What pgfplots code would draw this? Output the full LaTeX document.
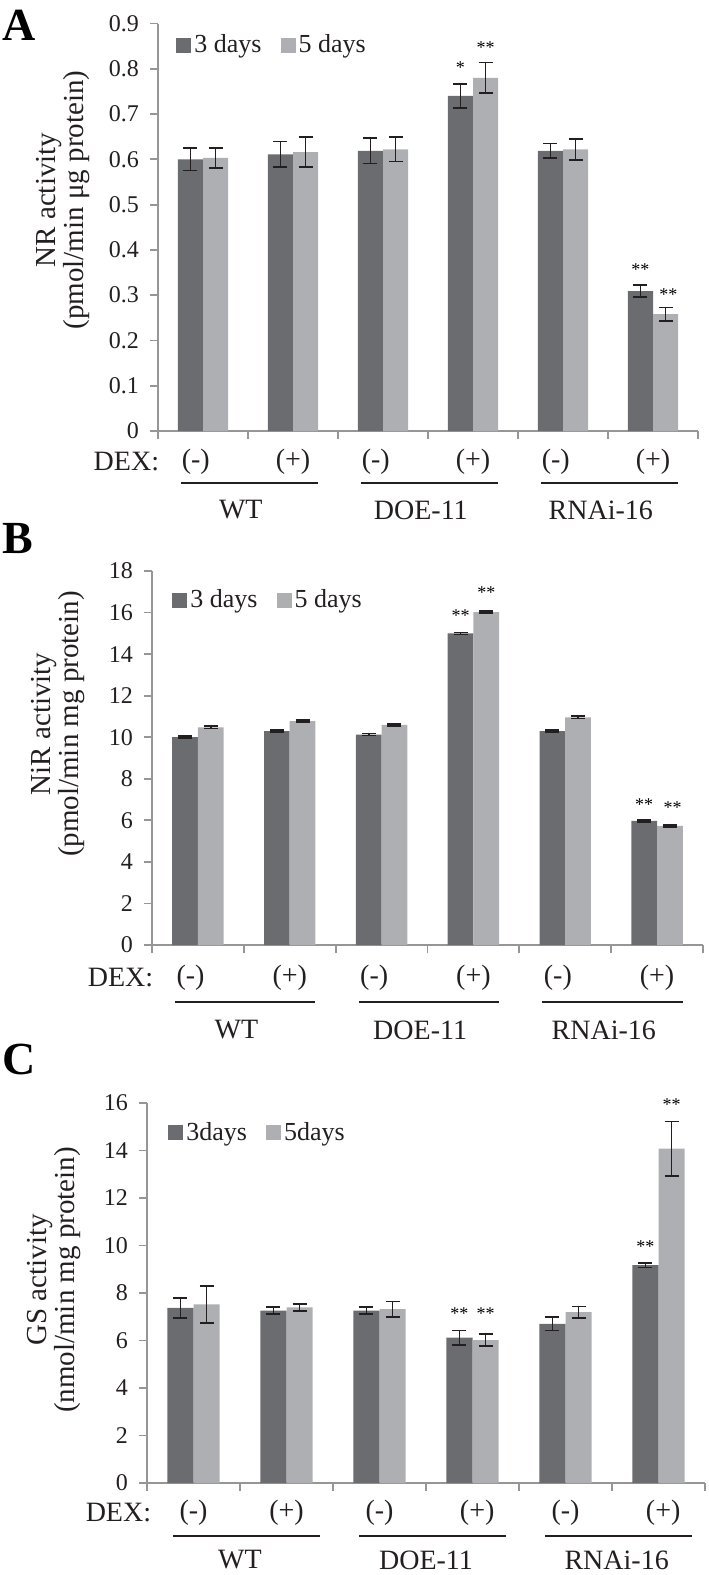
\documentclass[border=0pt]{standalone}
\usepackage{fontspec}
\setmainfont{Liberation Serif}
\usepackage{pgfplots}
\usepackage{pgfplotstable}
\pgfplotsset{compat=1.18}
\definecolor{barD}{RGB}{107,108,112}
\definecolor{barL}{RGB}{173,175,178}
\definecolor{axgray}{RGB}{150,150,150}
\definecolor{txt}{RGB}{35,31,32}

\pgfplotstableread{
x a ae b be
0 0.600 0.025 0.603 0.022
1 0.611 0.028 0.616 0.033
2 0.619 0.028 0.622 0.027
3 0.740 0.027 0.780 0.034
4 0.619 0.016 0.622 0.023
5 0.309 0.013 0.258 0.015
}\dataA
\pgfplotstableread{
x a ae b be
0 10.00 0.05 10.48 0.05
1 10.30 0.05 10.78 0.05
2 10.13 0.05 10.60 0.05
3 15.00 0.05 16.02 0.05
4 10.30 0.05 10.96 0.05
5 5.97 0.05 5.74 0.05
}\dataB
\pgfplotstableread{
x a ae b be
0 7.37 0.43 7.52 0.78
1 7.26 0.15 7.40 0.15
2 7.26 0.14 7.32 0.32
3 6.12 0.30 6.02 0.25
4 6.70 0.28 7.20 0.24
5 9.17 0.09 14.08 1.15
}\dataC

\newcommand{\tfont}{\fontsize{12}{12}\selectfont}
\newcommand{\dfont}{\fontsize{14}{14}\selectfont}
\newcommand{\afont}{\fontsize{9}{9}\selectfont}

\pgfplotsset{
  mystyle/.style={
    anchor=south west,
    scale only axis,
    ybar,
    xmin=-0.5, xmax=5.5, ymin=0,
    enlargelimits=false,
    clip=false,
    axis lines*=left,
    axis line style={axgray, line width=0.9pt},
    xtick={-0.5,0.5,1.5,2.5,3.5,4.5,5.5},
    xticklabels={},
    tick align=outside,
    major tick length=4pt,
    tick style={axgray, line width=0.9pt},
    yticklabel style={font=\tfont, text=txt, xshift=-2pt},
    /pgf/number format/assume math mode=true,
    legend style={draw=none, fill=none, anchor=west, inner sep=0pt,
      font=\fontsize{13}{13}\selectfont, text=txt,
      nodes={inner xsep=1.5pt, inner ysep=0pt},
      /tikz/every even column/.append style={column sep=8pt}},
    legend columns=2,
    legend cell align=left,
  },
  bara/.style={bar width=0.28, bar shift=-0.14, fill=barD, draw=none, forget plot,
    error bars/.cd, y dir=both, y explicit,
    error bar style={line width=0.8pt, draw=txt, solid},
    error mark options={rotate=90, line width=0.8pt, mark size=3.5pt, draw=txt, solid}},
  barb/.style={bar width=0.28, bar shift=0.14, fill=barL, draw=none, forget plot,
    error bars/.cd, y dir=both, y explicit,
    error bar style={line width=0.8pt, draw=txt, solid},
    error mark options={rotate=90, line width=0.8pt, mark size=3.5pt, draw=txt, solid}},
  sq/.style={legend image code/.code={\fill[##1] (0pt,-3.75pt) rectangle (7.5pt,3.75pt);}},
}

\begin{document}
\begin{tikzpicture}
\path[use as bounding box] (0,0) rectangle (354pt,-787.5pt);

% ---------------- Panel A ----------------
\begin{axis}[mystyle,
  at={(79pt,-215.5pt)}, width=270pt, height=203.75pt,
  ymax=0.9, ytick={0,0.1,...,0.9},
  yticklabel style={/pgf/number format/fixed, /pgf/number format/precision=1},
  legend style={at={(0,1)}, xshift=9pt, yshift=-10.75pt}]
\addlegendimage{sq, fill=barD, draw=none}
\addlegendentry{3 days}
\addlegendimage{sq, fill=barL, draw=none}
\addlegendentry{5 days}
\addplot[bara] table[x=x, y=a, y error=ae] {\dataA};
\addplot[barb] table[x=x, y=b, y error=be] {\dataA};
\node[font=\afont, anchor=base, yshift=-4.3pt] at (axis cs:2.86,0.808) {*};
\node[font=\afont, anchor=base, yshift=-4.3pt] at (axis cs:3.14,0.852) {**};
\node[font=\afont, anchor=base, yshift=-4.3pt] at (axis cs:4.86,0.362) {**};
\node[font=\afont, anchor=base, yshift=-4.3pt] at (axis cs:5.17,0.307) {**};
\node[font=\dfont, anchor=east, text=txt] at ([yshift=-15.5pt]axis cs:-0.41,0) {DEX:};
\node[font=\dfont, text=txt] at ([yshift=-15.5pt]axis cs:-0.08,0) {(-)};
\node[font=\dfont, text=txt] at ([yshift=-15.5pt]axis cs:1,0) {(+)};
\node[font=\dfont, text=txt] at ([yshift=-15.5pt]axis cs:1.92,0) {(-)};
\node[font=\dfont, text=txt] at ([yshift=-15.5pt]axis cs:3,0) {(+)};
\node[font=\dfont, text=txt] at ([yshift=-15.5pt]axis cs:3.92,0) {(-)};
\node[font=\dfont, text=txt] at ([yshift=-15.5pt]axis cs:5,0) {(+)};
\draw[txt, line width=0.8pt] ([yshift=-26pt]axis cs:-0.25,0) -- ([yshift=-26pt]axis cs:1.28,0);
\draw[txt, line width=0.8pt] ([yshift=-26pt]axis cs:1.75,0) -- ([yshift=-26pt]axis cs:3.28,0);
\draw[txt, line width=0.8pt] ([yshift=-26pt]axis cs:3.75,0) -- ([yshift=-26pt]axis cs:5.28,0);
\node[font=\dfont, text=txt] at ([yshift=-39.5pt]axis cs:0.42,0) {WT};
\node[font=\dfont, text=txt] at ([yshift=-39.5pt]axis cs:2.42,0) {DOE-11};
\node[font=\dfont, text=txt] at ([yshift=-39.5pt]axis cs:4.42,0) {RNAi-16};
\end{axis}

% ---------------- Panel B ----------------
\begin{axis}[mystyle,
  at={(76pt,-472.5pt)}, width=275.5pt, height=187pt,
  ymax=18, ytick={0,2,...,18},
  legend style={at={(0,1)}, xshift=10pt, yshift=-14.5pt}]
\addlegendimage{sq, fill=barD, draw=none}
\addlegendentry{3 days}
\addlegendimage{sq, fill=barL, draw=none}
\addlegendentry{5 days}
\addplot[bara] table[x=x, y=a, y error=ae] {\dataB};
\addplot[barb] table[x=x, y=b, y error=be] {\dataB};
\node[font=\afont, anchor=base, yshift=-4.3pt] at (axis cs:2.86,16.0) {**};
\node[font=\afont, anchor=base, yshift=-4.3pt] at (axis cs:3.14,17.1) {**};
\node[font=\afont, anchor=base, yshift=-4.3pt] at (axis cs:4.86,6.88) {**};
\node[font=\afont, anchor=base, yshift=-4.3pt] at (axis cs:5.17,6.74) {**};
\node[font=\dfont, anchor=east, text=txt] at ([yshift=-16.5pt]axis cs:-0.41,0) {DEX:};
\node[font=\dfont, text=txt] at ([yshift=-16.5pt]axis cs:-0.08,0) {(-)};
\node[font=\dfont, text=txt] at ([yshift=-16.5pt]axis cs:1,0) {(+)};
\node[font=\dfont, text=txt] at ([yshift=-16.5pt]axis cs:1.92,0) {(-)};
\node[font=\dfont, text=txt] at ([yshift=-16.5pt]axis cs:3,0) {(+)};
\node[font=\dfont, text=txt] at ([yshift=-16.5pt]axis cs:3.92,0) {(-)};
\node[font=\dfont, text=txt] at ([yshift=-16.5pt]axis cs:5,0) {(+)};
\draw[txt, line width=0.8pt] ([yshift=-28.5pt]axis cs:-0.25,0) -- ([yshift=-28.5pt]axis cs:1.28,0);
\draw[txt, line width=0.8pt] ([yshift=-28.5pt]axis cs:1.75,0) -- ([yshift=-28.5pt]axis cs:3.28,0);
\draw[txt, line width=0.8pt] ([yshift=-28.5pt]axis cs:3.75,0) -- ([yshift=-28.5pt]axis cs:5.28,0);
\node[font=\dfont, text=txt] at ([yshift=-42.5pt]axis cs:0.42,0) {WT};
\node[font=\dfont, text=txt] at ([yshift=-42.5pt]axis cs:2.42,0) {DOE-11};
\node[font=\dfont, text=txt] at ([yshift=-42.5pt]axis cs:4.42,0) {RNAi-16};
\end{axis}

% ---------------- Panel C ----------------
\begin{axis}[mystyle,
  at={(73.5pt,-741.5pt)}, width=279pt, height=190pt,
  ymax=16, ytick={0,2,...,16},
  legend style={at={(0,1)}, xshift=10.5pt, yshift=-14.75pt}]
\addlegendimage{sq, fill=barD, draw=none}
\addlegendentry{3days}
\addlegendimage{sq, fill=barL, draw=none}
\addlegendentry{5days}
\addplot[bara] table[x=x, y=a, y error=ae] {\dataC};
\addplot[barb] table[x=x, y=b, y error=be] {\dataC};
\node[font=\afont, anchor=base, yshift=-4.3pt] at (axis cs:2.86,7.26) {**};
\node[font=\afont, anchor=base, yshift=-4.3pt] at (axis cs:3.14,7.26) {**};
\node[font=\afont, anchor=base, yshift=-4.3pt] at (axis cs:4.86,10.06) {**};
\node[font=\afont, anchor=base, yshift=-4.3pt] at (axis cs:5.14,16.04) {**};
\node[font=\dfont, anchor=east, text=txt] at ([yshift=-15pt]axis cs:-0.38,0) {DEX:};
\node[font=\dfont, text=txt] at ([yshift=-15pt]axis cs:0,0) {(-)};
\node[font=\dfont, text=txt] at ([yshift=-15pt]axis cs:1,0) {(+)};
\node[font=\dfont, text=txt] at ([yshift=-15pt]axis cs:2,0) {(-)};
\node[font=\dfont, text=txt] at ([yshift=-15pt]axis cs:3.05,0) {(+)};
\node[font=\dfont, text=txt] at ([yshift=-15pt]axis cs:4,0) {(-)};
\node[font=\dfont, text=txt] at ([yshift=-15pt]axis cs:5.05,0) {(+)};
\draw[txt, line width=0.8pt] ([yshift=-26.5pt]axis cs:-0.22,0) -- ([yshift=-26.5pt]axis cs:1.36,0);
\draw[txt, line width=0.8pt] ([yshift=-26.5pt]axis cs:1.78,0) -- ([yshift=-26.5pt]axis cs:3.36,0);
\draw[txt, line width=0.8pt] ([yshift=-26.5pt]axis cs:3.78,0) -- ([yshift=-26.5pt]axis cs:5.36,0);
\node[font=\dfont, text=txt] at ([yshift=-38.5pt]axis cs:0.5,0) {WT};
\node[font=\dfont, text=txt] at ([yshift=-38.5pt]axis cs:2.5,0) {DOE-11};
\node[font=\dfont, text=txt] at ([yshift=-38.5pt]axis cs:4.55,0) {RNAi-16};
\end{axis}

% y labels and panel letters
\node[rotate=90, align=center, text=txt, font=\fontsize{14.5}{13}\selectfont] at (31.5pt,-100pt) {NR activity\\(pmol/min μg protein)};
\node[rotate=90, align=center, text=txt, font=\fontsize{14.5}{13}\selectfont] at (29pt,-362pt) {NiR activity\\(pmol/min mg protein)};
\node[rotate=90, align=center, text=txt, font=\fontsize{14.5}{13}\selectfont] at (27pt,-640pt) {GS activity\\(nmol/min mg protein)};
\node[font=\fontsize{23}{23}\selectfont\bfseries, text=black] at (9.5pt,-12.5pt) {A};
\node[font=\fontsize{23}{23}\selectfont\bfseries, text=black] at (9pt,-269pt) {B};
\node[font=\fontsize{23}{23}\selectfont\bfseries, text=black] at (9.5pt,-529.5pt) {C};
\end{tikzpicture}
\end{document}
